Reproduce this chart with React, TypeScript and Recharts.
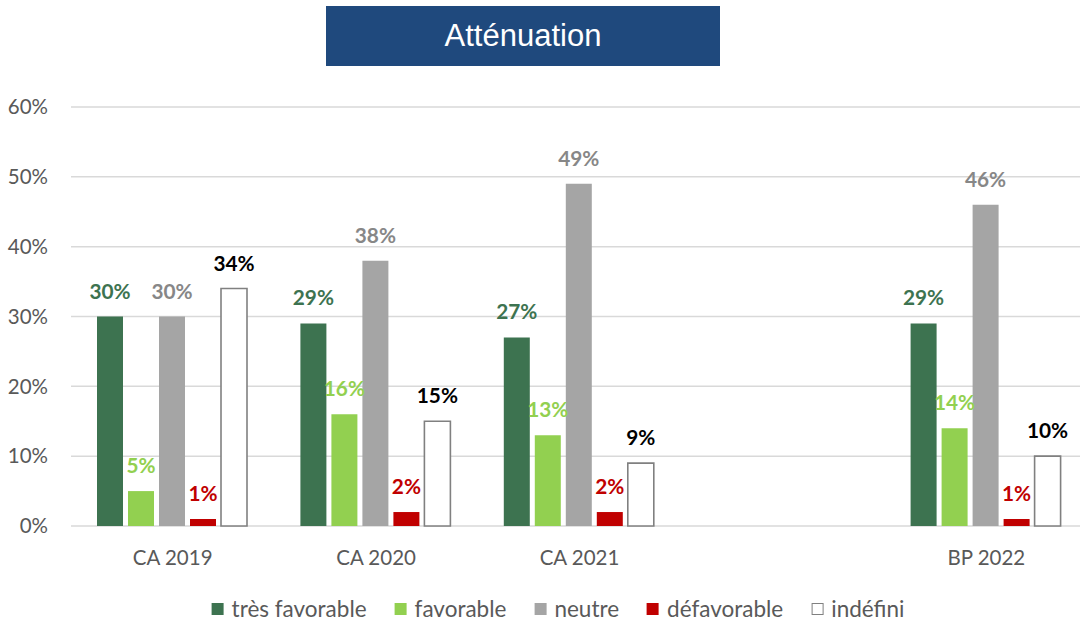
import { Bar, BarChart, CartesianGrid, LabelList, XAxis, YAxis } from 'recharts';

const categories = ['CA 2019', 'CA 2020', 'CA 2021', '', 'BP 2022'];
const tresFavorable = [30, 29, 27, null, 29];
const favorable = [5, 16, 13, null, 14];
const neutre = [30, 38, 49, null, 46];
const defavorable = [1, 2, 2, null, 1];
const indefini = [34, 15, 9, null, 10];
const yTicks = [0, 10, 20, 30, 40, 50, 60];

const series = [
  { key: 'tresFavorable', name: 'très favorable', values: tresFavorable, fill: '#3D7350', stroke: 'none', label: '#3D7350' },
  { key: 'favorable', name: 'favorable', values: favorable, fill: '#92D050', stroke: 'none', label: '#92D050' },
  { key: 'neutre', name: 'neutre', values: neutre, fill: '#A5A5A5', stroke: 'none', label: '#878787' },
  { key: 'defavorable', name: 'défavorable', values: defavorable, fill: '#C00000', stroke: 'none', label: '#C00000' },
  { key: 'indefini', name: 'indéfini', values: indefini, fill: '#FFFFFF', stroke: '#808080', label: '#000000' },
];

const data = categories.map((name, i) => {
  const row: Record<string, string | number | null> = { name };
  series.forEach((s) => {
    row[s.key] = s.values[i];
  });
  return row;
});

const font = 'Lato, "Open Sans", sans-serif';
const pct = (v: unknown) => (v == null ? '' : `${v}%`);

export default function App() {
  return (
    <div
      style={{
        position: 'absolute',
        left: 0,
        top: 0,
        width: 1080,
        height: 623,
        overflow: 'hidden',
        background: '#fff',
        fontFamily: font,
      }}
    >
      <div
        style={{
          position: 'absolute',
          left: 326,
          top: 6,
          width: 394,
          height: 60,
          background: '#1F497D',
          color: '#fff',
          fontFamily: '"Liberation Sans", Arial, sans-serif',
          fontSize: 31,
          display: 'flex',
          alignItems: 'center',
          justifyContent: 'center',
        }}
      >
        Atténuation
      </div>

      <BarChart
        width={1100}
        height={623}
        data={data}
        margin={{ top: 107, right: 12, left: 0, bottom: 57 }}
        barCategoryGap={26}
        barGap={5}
      >
        <CartesianGrid vertical={false} stroke="#D9D9D9" strokeWidth={1.5} />
        <XAxis
          dataKey="name"
          height={40}
          axisLine={false}
          tickLine={false}
          tickMargin={18}
          tick={{ fill: '#595959', fontSize: 20.5, fontFamily: font }}
          interval={0}
        />
        <YAxis
          width={71}
          domain={[0, 60]}
          ticks={yTicks}
          axisLine={false}
          tickLine={false}
          tickMargin={17}
          tickFormatter={(v) => `${v}%`}
          tick={{ fill: '#595959', fontSize: 20.5, fontFamily: font }}
        />
        {series.map((s) => (
          <Bar
            key={s.key}
            dataKey={s.key}
            name={s.name}
            fill={s.fill}
            stroke={s.stroke}
            strokeWidth={s.stroke === 'none' ? 0 : 1.6}
            isAnimationActive={false}
          >
            <LabelList
              dataKey={s.key}
              position="top"
              offset={18}
              formatter={pct}
              style={{ fill: s.label, fontSize: 20.8, fontWeight: 700, fontFamily: font }}
            />
          </Bar>
        ))}
      </BarChart>

      <div
        style={{
          position: 'absolute',
          left: 558,
          top: 595,
          transform: 'translateX(-50%)',
          display: 'flex',
          alignItems: 'center',
          gap: 28,
          whiteSpace: 'nowrap',
          color: '#595959',
          fontSize: 22.5,
          lineHeight: '28px',
        }}
      >
        {series.map((s) => (
          <div key={s.key} style={{ display: 'flex', alignItems: 'center', gap: 8 }}>
            <span
              style={{
                display: 'inline-block',
                width: s.stroke === 'none' ? 12 : 10,
                height: s.stroke === 'none' ? 12 : 10,
                background: s.fill,
                border: s.stroke === 'none' ? 'none' : `1px solid ${s.stroke}`,
              }}
            />
            <span>{s.name}</span>
          </div>
        ))}
      </div>
    </div>
  );
}
